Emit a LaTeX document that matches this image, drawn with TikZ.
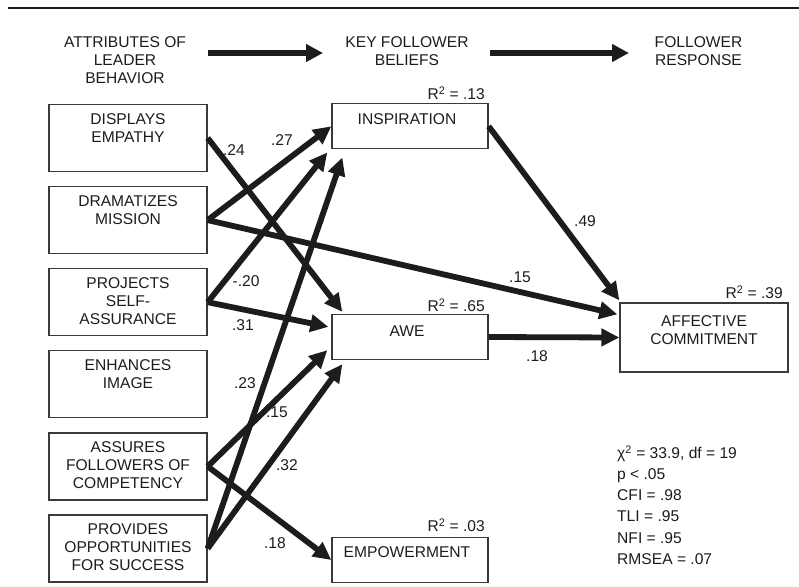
\documentclass[tikz,border=0pt]{standalone}
\usepackage{fontspec}
\setmainfont{Liberation Sans}
\usetikzlibrary{arrows.meta,calc}
\definecolor{ink}{HTML}{1E1B1C}
\definecolor{boxc}{HTML}{3A3A3A}
\begin{document}
\begin{tikzpicture}[x=1pt,y=-1pt,
  font=\fontsize{15.6}{18}\selectfont,
  lbox/.style={draw=boxc, line width=1.3pt, minimum width=158pt, minimum height=67pt, inner sep=0pt},
  mbox/.style={draw=boxc, line width=1.3pt, minimum width=156pt, minimum height=45pt, inner sep=0pt},
  abox/.style={draw=boxc, line width=1.3pt, minimum width=168pt, minimum height=69pt, inner sep=0pt},
  txt/.style={inner sep=0pt, align=center, text=ink, anchor=north},
  coef/.style={inner sep=0pt, text=ink},
  rsq/.style={inner sep=0pt, text=ink, anchor=east},
  pth/.style={line width=5.8pt, draw=ink, -{Triangle[length=18pt,width=17pt]}},
  harrow/.style={line width=6.3pt, draw=ink, -{Triangle[length=17pt,width=17pt]}}
]
\useasboundingbox (0,0) rectangle (799,586);
% top rule
\coordinate (rl) at (8,8);
\coordinate (rr) at (799,8);
\draw[line width=2.6pt, ink] (rl) -- (rr);

% headers
\node[txt] (h1) at (125,36.3) {ATTRIBUTES OF\\LEADER\\BEHAVIOR};
\node[txt] (h2) at (407,36.3) {KEY FOLLOWER\\BELIEFS};
\node[txt] (h3) at (698.5,36.3) {FOLLOWER\\RESPONSE};
\coordinate (a1s) at (208,53);
\coordinate (a1e) at (323,53);
\coordinate (a2s) at (490,53);
\coordinate (a2e) at (629,53);
\draw[harrow] (a1s) -- (a1e);
\draw[harrow] (a2s) -- (a2e);

% left boxes
\node[lbox] (disp) at (128,138) {};
\node[lbox] (dram) at (128,220.1) {};
\node[lbox] (proj) at (128,302.2) {};
\node[lbox] (enha) at (128,384.3) {};
\node[lbox] (assu) at (128,466.4) {};
\node[lbox] (prov) at (128,548.5) {};
\node[txt] (dispt) at ([yshift=-9.3pt]disp.north) {DISPLAYS\\EMPATHY};
\node[txt] (dramt) at ([yshift=-9.3pt]dram.north) {DRAMATIZES\\MISSION};
\node[txt] (projt) at ([yshift=-9.3pt]proj.north) {PROJECTS\\SELF-\\ASSURANCE};
\node[txt] (enhat) at ([yshift=-9.3pt]enha.north) {ENHANCES\\IMAGE};
\node[txt] (assut) at ([yshift=-9.3pt]assu.north) {ASSURES\\FOLLOWERS OF\\COMPETENCY};
\node[txt] (provt) at ([yshift=-9.3pt]prov.north) {PROVIDES\\OPPORTUNITIES\\FOR SUCCESS};

% middle boxes
\node[mbox] (insp) at (410,126.3) {};
\node[mbox] (awe) at (410,337) {};
\node[mbox] (emp) at (410,560) {};
\node[txt] (inspt) at ([xshift=-3pt,yshift=-10.3pt]insp.north) {INSPIRATION};
\node[txt] (awet) at ([xshift=-3pt,yshift=-11.3pt]awe.north) {AWE};
\node[txt] (empt) at ([xshift=-3pt,yshift=-9.3pt]emp.north) {EMPOWERMENT};
\node[rsq] (r1) at (485,93) {R\textsuperscript{2} = .13};
\node[rsq] (r2) at (485,305) {R\textsuperscript{2} = .65};
\node[rsq] (r3) at (485,525) {R\textsuperscript{2} = .03};

% outcome box
\node[abox] (aff) at (704,337.5) {};
\node[txt, font=\fontsize{15.6}{17.5}\selectfont] (afft) at ([yshift=-13.3pt]aff.north) {AFFECTIVE\\COMMITMENT};
\node[rsq] (r4) at (783,292) {R\textsuperscript{2} = .39};

% paths
\draw[pth] (disp.east) -- ([xshift=11pt,yshift=2pt]awe.north west);
\draw[pth] (dram.east) -- (insp.west);
\draw[pth] (dram.east) -- ([xshift=-2pt,yshift=-12pt]aff.north west);
\draw[pth] (proj.east) -- ([xshift=-4pt,yshift=-3pt]insp.south west);
\draw[pth] (proj.east) -- ([xshift=-3pt,yshift=-13pt]awe.north west);
\draw[pth] (assu.east) -- ([xshift=-4pt,yshift=10pt]awe.south west);
\draw[pth] (assu.east) -- (emp.west);
\draw[pth] (prov.east) -- ([xshift=11pt,yshift=-8pt]insp.south west);
\draw[pth] (prov.east) -- ([xshift=11pt,yshift=-4pt]awe.south west);
\draw[pth] (insp.east) -- ([yshift=2pt]aff.north west);
\draw[pth] (awe.east) -- (aff.west);

% coefficients
\node[coef] (c24) at (234,150) {.24};
\node[coef] (c27) at (282,140) {.27};
\node[coef] (c20) at (246,281) {-.20};
\node[coef] (c31) at (243,325) {.31};
\node[coef] (c23) at (245,383) {.23};
\node[coef] (c15a) at (277,412) {.15};
\node[coef] (c32) at (287,465) {.32};
\node[coef] (c18a) at (275,543) {.18};
\node[coef] (c49) at (585,221) {.49};
\node[coef] (c15b) at (520,277) {.15};
\node[coef] (c18b) at (537,356) {.18};

% fit statistics
\node[inner sep=0pt, anchor=north west, align=left, text=ink, font=\fontsize{15.6}{21.2}\selectfont] (fit) at (617,445.3)
  {χ\textsuperscript{2} = 33.9, df = 19\\p < .05\\CFI = .98\\TLI = .95\\NFI = .95\\RMSEA = .07};
\end{tikzpicture}
\end{document}
